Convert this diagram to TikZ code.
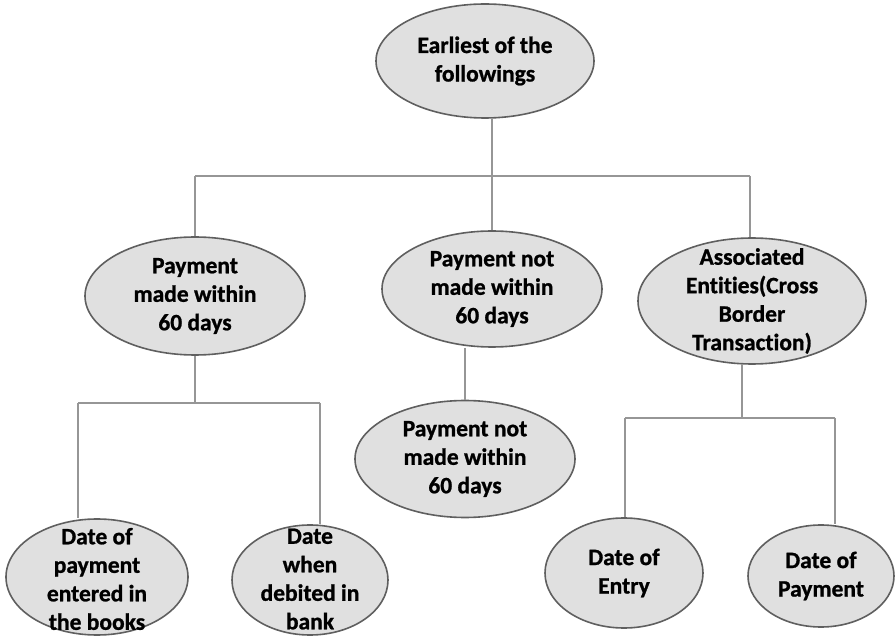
\documentclass[tikz,border=0pt]{standalone}
\usepackage{fontspec}
\setmainfont{Carlito}[Ligatures=NoCommon, BoldFeatures={FakeBold=1}]
\usetikzlibrary{shapes.geometric}

\definecolor{bubblefill}{RGB}{224,224,224}
\definecolor{bubbleedge}{RGB}{95,95,95}
\definecolor{linkgray}{RGB}{150,150,150}

\tikzset{
  bubble/.style={ellipse, draw=bubbleedge, fill=bubblefill, line width=1.6pt, inner sep=0pt},
  words/.style={align=center, inner sep=0pt, font=\fontsize{23.5}{28.5}\selectfont\bfseries},
  link/.style={draw=linkgray, line width=1.3pt},
}

\begin{document}
\begin{tikzpicture}[x=1pt, y=-1pt]
\useasboundingbox (0,0) rectangle (895,636);

% ellipses
\node[bubble, minimum width=218pt, minimum height=114pt,
      label={[words]center:{Earliest of the\\followings}}] (top) at (485,61) {};
\node[bubble, minimum width=220pt, minimum height=118pt,
      label={[words]center:{Payment\\made within\\60 days}}] (pay60) at (195,296) {};
\node[bubble, minimum width=220pt, minimum height=116pt,
      label={[words]center:{Payment not\\made within\\60 days}}] (notpay) at (492,289) {};
\node[bubble, minimum width=220pt, minimum height=117pt,
      label={[words]center:{Payment not\\made within\\60 days}}] (notpay2) at (465,459) {};
\node[bubble, minimum width=228pt, minimum height=126pt,
      label={[words]center:{Associated\\Entities(Cross\\Border\\Transaction)}}] (assoc) at (752,301) {};
\node[bubble, minimum width=182pt, minimum height=116pt,
      label={[words, yshift=-2pt]center:{Date of\\payment\\entered in\\the books}}] (dpay) at (97,577) {};
\node[bubble, minimum width=156pt, minimum height=110pt,
      label={[words, yshift=1pt]center:{Date\\when\\debited in\\bank}}] (ddeb) at (310,580) {};
\node[bubble, minimum width=158pt, minimum height=110pt,
      label={[words]center:{Date of\\Entry}}] (dentry) at (624,573) {};
\node[bubble, minimum width=146pt, minimum height=102pt,
      label={[words]center:{Date of\\Payment}}] (dpaym) at (821,576) {};

% junctions
\coordinate (hub) at (492,176);
\coordinate (barL) at (195,176);
\coordinate (barR) at (750,176);
\coordinate (legL) at (78,403);
\coordinate (legR) at (320,403);
\coordinate (forkR) at (742,418);
\coordinate (entL) at (625,418);
\coordinate (entR) at (835,418);

% top level
\draw[link] (top.south -| hub) -- (hub);
\draw[link] (barL) -- (barR);
\draw[link] (barL) -- (pay60.north);
\draw[link] (hub) -- (notpay.north);
\draw[link] (barR) -- (barR |- assoc.north);

% middle branch
\draw[link] (notpay2.north |- notpay.south) -- (notpay2.north);

% left branch
\draw[link] (pay60.south) -- (pay60.south |- legL);
\draw[link] (legL) -- (legR);
\draw[link] (legL) -- (legL |- dpay.north);
\draw[link] (legR) -- (legR |- ddeb.north);

% right branch
\draw[link] (forkR |- assoc.south) -- (forkR);
\draw[link] (entL) -- (entR);
\draw[link] (entL) -- (entL |- dentry.north);
\draw[link] (entR) -- (entR |- dpaym.north);
\end{tikzpicture}
\end{document}
